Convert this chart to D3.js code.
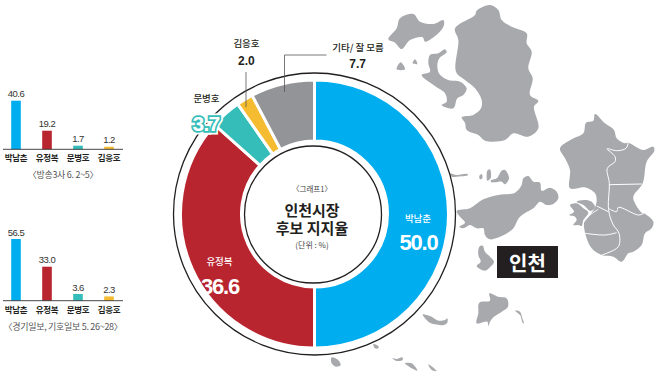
<!DOCTYPE html>
<html>
<head>
<meta charset="utf-8">
<script src="https://cdn.jsdelivr.net/npm/d3@7"></script>
<style>
html, body { margin: 0; padding: 0; background: #fff; }
svg { display: block; }
text { font-family: "Noto Sans CJK KR", sans-serif; }
</style>
</head>
<body>
<svg id="chart"></svg>
<script>
const WIDTH = 660;
const HEIGHT = 377;

// donut
const donutNames = ['박남춘', '유정복', '문병호', '김응호', '기타/ 잘 모름'];
const donutValues = [50.0, 36.6, 3.7, 2.0, 7.7];
const donutColors = ['#00adef', '#b9252f', '#35bdb9', '#f5bc31', '#929497'];

// small bar charts
const barNames = ['박남춘', '유정복', '문병호', '김응호'];
const barColors = ['#00adef', '#b9252f', '#35bdb9', '#f5bc31'];
const pollA = [40.6, 19.2, 1.7, 1.2];
const pollB = [56.5, 33.0, 3.6, 2.3];
const pollALabel = '〈방송3사 6. 2~5〉';
const pollBLabel = '〈경기일보, 기호일보 5. 26~28〉';

// map outlines. each group is [left, top] of the
// crop it was traced on, points are in 3x crop pixels
const mapFill = '#a7a9ac';
const mapNorth = [
  [[225,85],[285,45],[290,32],[330,15],[355,30],[365,60],[395,80],[440,100],[440,130],[455,155],[445,205],[458,235],[450,285],[475,303],[462,320],[475,385],[445,410],[400,400],[375,420],[315,422],[295,405],[260,390],[255,368],[245,352],[280,345],[303,325],[305,300],[285,265],[255,240],[228,215],[235,120]],
  [[25,118],[50,85],[60,55],[100,42],[120,65],[160,72],[190,60],[192,75],[175,100],[135,125],[128,112],[90,120],[65,147],[45,128]],
  [[50,208],[62,187],[75,208]],
  [[98,190],[105,178],[112,192]],
  [[150,165],[175,160],[195,148],[200,157],[178,175],[172,195],[178,222],[205,240],[240,245],[260,265],[250,285],[232,295],[220,325],[185,315],[200,305],[195,280],[165,258],[125,225],[150,215],[145,190]]
];
const mapMiddle = [
  [[50,183],[90,175],[130,148],[175,135],[225,128],[245,105],[250,85],[265,78],[280,95],[300,98],[305,122],[330,113],[350,125],[355,145],[340,162],[320,165],[300,155],[280,175],[240,200],[215,240],[150,268],[135,255],[130,235],[110,235],[90,225],[70,235],[58,230],[75,218],[60,200]],
  [[118,78],[125,72],[127,85],[120,88]],
  [[142,62],[150,58],[152,85],[142,92],[140,75]],
  [[152,92],[170,85],[185,62],[195,60],[207,85],[195,103],[185,95],[165,97],[155,97]],
  [[28,70],[50,75],[82,72],[84,76],[50,80],[35,80]]
];
const mapSouth = [
  [[118,200],[128,197],[135,215],[150,230],[162,245],[150,262],[135,272],[110,258],[122,245],[115,225]],
  [[118,368],[150,362],[148,340],[175,350],[200,355],[204,380],[185,395],[160,412],[150,425],[145,438],[142,425],[110,430],[115,400]],
  [[225,392],[240,395],[247,415],[252,430],[248,428],[240,405]]
];
const mapBottom = [
  [[278,133],[300,138],[325,152],[345,150],[352,145],[352,158],[340,165],[315,163],[295,155]],
  [[130,222],[145,228],[145,235],[135,235]],
  [[5,262],[22,268],[32,285],[18,290],[5,280]],
  [[187,265],[200,267],[217,262],[218,270],[200,273]],
  [[225,280],[245,280],[262,302],[245,295]],
  [[295,283],[320,303],[305,300]]
];
const mapMainland = [
  [[30,145],[65,118],[100,100],[108,68],[130,62],[135,42],[165,70],[192,90],[200,115],[225,130],[235,128],[280,150],[310,140],[313,152],[290,185],[278,250],[250,290],[255,310],[275,338],[282,340],[310,365],[305,385],[285,400],[275,435],[250,455],[235,460],[215,485],[190,470],[155,465],[125,445],[107,405],[103,365],[120,345],[135,322],[140,300],[135,280],[105,262],[60,265],[60,210],[45,175]],
  [[80,305],[105,300],[125,305],[135,322],[122,333],[100,315]],
  [[60,315],[80,310],[100,325],[115,338],[100,360],[95,378],[85,375],[70,375],[80,360],[75,350],[58,345],[72,335]]
];
const mapBorders = [
  [[172,145],[200,152],[228,145],[235,128]],
  [[170,147],[195,170],[195,185],[172,205],[178,250],[175,320],[180,350],[190,375],[207,400],[205,440],[155,465]],
  [[178,254],[275,252]],
  [[175,325],[200,335],[205,322],[265,345],[282,340]],
  [[140,318],[175,335]],
  [[105,400],[165,405],[200,398]],
  [[145,328],[120,345],[103,365]]
];

const svg = d3.select('#chart').attr('width', WIDTH).attr('height', HEIGHT);

// map goes under the donut
const mapGroup = svg.append('g');
function drawMap(shapes, left, top) {
  const outline = d3.line()
    .x(d => left + d[0] / 3)
    .y(d => top + d[1] / 3)
    .curve(d3.curveCatmullRomClosed.alpha(0.5));
  shapes.forEach(shape => {
    mapGroup.append('path')
      .attr('d', outline(shape))
      .attr('fill', mapFill);
  });
}
drawMap(mapNorth, 380, 0);
drawMap(mapMiddle, 440, 150);
drawMap(mapSouth, 440, 180);
drawMap(mapBottom, 330, 270);
drawMap(mapMainland, 550, 100);

const borderLine = d3.line()
  .x(d => 550 + d[0] / 3)
  .y(d => 100 + d[1] / 3)
  .curve(d3.curveCatmullRom.alpha(0.5));
mapGroup.selectAll('.border')
  .data(mapBorders)
  .join('path')
  .attr('class', 'border')
  .attr('d', d => borderLine(d))
  .attr('fill', 'none')
  .attr('stroke', '#fff')
  .attr('stroke-width', 1);

// donut chart
const CX = 314.5;
const CY = 214;
const pie = d3.pie().sort(null).value(d => d);
const arc = d3.arc().innerRadius(73).outerRadius(134);
const slices = pie(donutValues);

svg.append('circle')
  .attr('cx', CX).attr('cy', CY).attr('r', 141)
  .attr('fill', '#fff').attr('stroke', '#231f20').attr('stroke-width', 1.3);

const donut = svg.append('g').attr('transform', `translate(${CX},${CY})`);
donut.selectAll('.slice')
  .data(slices)
  .join('path')
  .attr('class', 'slice')
  .attr('d', arc)
  .attr('fill', (_, i) => donutColors[i])
  .attr('stroke', '#fff')
  .attr('stroke-width', 3);

svg.append('circle')
  .attr('cx', 313).attr('cy', 214.5).attr('r', 68.5)
  .attr('fill', '#fff').attr('stroke', '#231f20').attr('stroke-width', 1.3);

function label(parent, x, y, txt, size, fill, weight, spacing) {
  return parent.append('text')
    .attr('x', x).attr('y', y)
    .attr('text-anchor', 'middle')
    .attr('font-size', size)
    .attr('font-weight', weight || 400)
    .attr('letter-spacing', spacing || 0)
    .attr('fill', fill)
    .text(txt);
}

// centre titles
label(svg, 312, 192, '〈그래프1〉', 7.5, '#444');
label(svg, 312, 216, '인천시장', 15, '#231f20', 700);
label(svg, 312, 233.5, '후보 지지율', 15, '#231f20', 700);
label(svg, 312, 248, '(단위 : %)', 8, '#444');

// labels on the slices
const numberFont = '"Liberation Sans"';
label(svg, 418, 222, donutNames[0], 9.5, '#fff', 500);
label(svg, 418.5, 249.5, donutValues[0].toFixed(1), 22, '#fff', 700, -1.2).style('font-family', numberFont);
label(svg, 219.5, 265, donutNames[1], 9.5, '#fff', 500);
label(svg, 220, 293.5, donutValues[1].toFixed(1), 22, '#fff', 700, -1.2).style('font-family', numberFont);

label(svg, 206.5, 102, donutNames[2], 9.5, '#231f20', 500);
label(svg, 206, 130.5, donutValues[2].toFixed(1), 21, '#fff', 700, -0.8)
  .style('font-family', numberFont)
  .attr('stroke', '#fff')
  .attr('stroke-width', 7)
  .attr('paint-order', 'stroke');
label(svg, 206, 130.5, donutValues[2].toFixed(1), 21, '#fff', 700, -0.8)
  .style('font-family', numberFont)
  .attr('stroke', '#35bdb9')
  .attr('stroke-width', 3.5)
  .attr('paint-order', 'stroke');
label(svg, 246.5, 47, donutNames[3], 9.5, '#231f20', 500);
label(svg, 246.3, 64.5, donutValues[3].toFixed(1), 12, '#231f20', 700).style('font-family', numberFont);
label(svg, 358, 50.5, donutNames[4], 9.5, '#231f20', 500);
label(svg, 357.7, 67.5, donutValues[4].toFixed(1), 12, '#231f20', 700).style('font-family', numberFont);

// leader lines
const leader = d3.line();
svg.append('path').attr('d', leader([[246, 72], [246, 107]])).attr('fill', 'none').attr('stroke', '#555').attr('stroke-width', 0.8);
svg.append('path').attr('d', leader([[326.5, 55], [284.5, 55], [284.5, 92]])).attr('fill', 'none').attr('stroke', '#555').attr('stroke-width', 0.8);

// city badge
svg.append('rect').attr('x', 497).attr('y', 246).attr('width', 61).attr('height', 32).attr('fill', '#231f20');
label(svg, 527.5, 270.5, '인천', 20, '#fff', 700);

// small bars, the printed bars are not to one linear scale so each chart has its own stops
const xBar = d3.scalePoint().domain(barNames).range([16, 109]);
const yBarA = d3.scaleLinear().domain([0, 1.7, 19.2, 40.6]).range([0, 3.6, 18.6, 48.6]);
const yBarB = d3.scaleLinear().domain([0, 3.6, 33, 56.5]).range([0, 6.7, 34, 61.7]);

function drawPoll(values, yBar, baseY, note, noteY) {
  const g = svg.append('g');
  g.selectAll('rect')
    .data(values)
    .join('rect')
    .attr('x', (_, i) => xBar(barNames[i]) - 4.8)
    .attr('width', 9.6)
    .attr('y', d => baseY - yBar(d))
    .attr('height', d => yBar(d))
    .attr('fill', (_, i) => barColors[i]);
  g.selectAll('.val')
    .data(values)
    .join('text')
    .attr('class', 'val')
    .attr('x', (_, i) => xBar(barNames[i]))
    .attr('y', d => baseY - yBar(d) - 3.5)
    .attr('text-anchor', 'middle')
    .attr('font-size', 9.5)
    .attr('letter-spacing', -0.5)
    .attr('fill', '#333')
    .style('font-family', numberFont)
    .text(d => d.toFixed(1));
  g.append('line')
    .attr('x1', 3).attr('x2', 123)
    .attr('y1', baseY).attr('y2', baseY)
    .attr('stroke', '#333').attr('stroke-width', 0.9);
  g.selectAll('.name')
    .data(barNames)
    .join('text')
    .attr('class', 'name')
    .attr('x', d => xBar(d))
    .attr('y', baseY + 12)
    .attr('text-anchor', 'middle')
    .attr('font-size', 8.5)
    .attr('font-weight', 700)
    .attr('letter-spacing', -0.3)
    .attr('fill', '#231f20')
    .text(d => d);
  label(g, 63, noteY, note, 9, '#555', 400, -0.3);
}
drawPoll(pollA, yBarA, 149.3, pollALabel, 178);
drawPoll(pollB, yBarB, 300.7, pollBLabel, 330);
</script>
</body>
</html>
